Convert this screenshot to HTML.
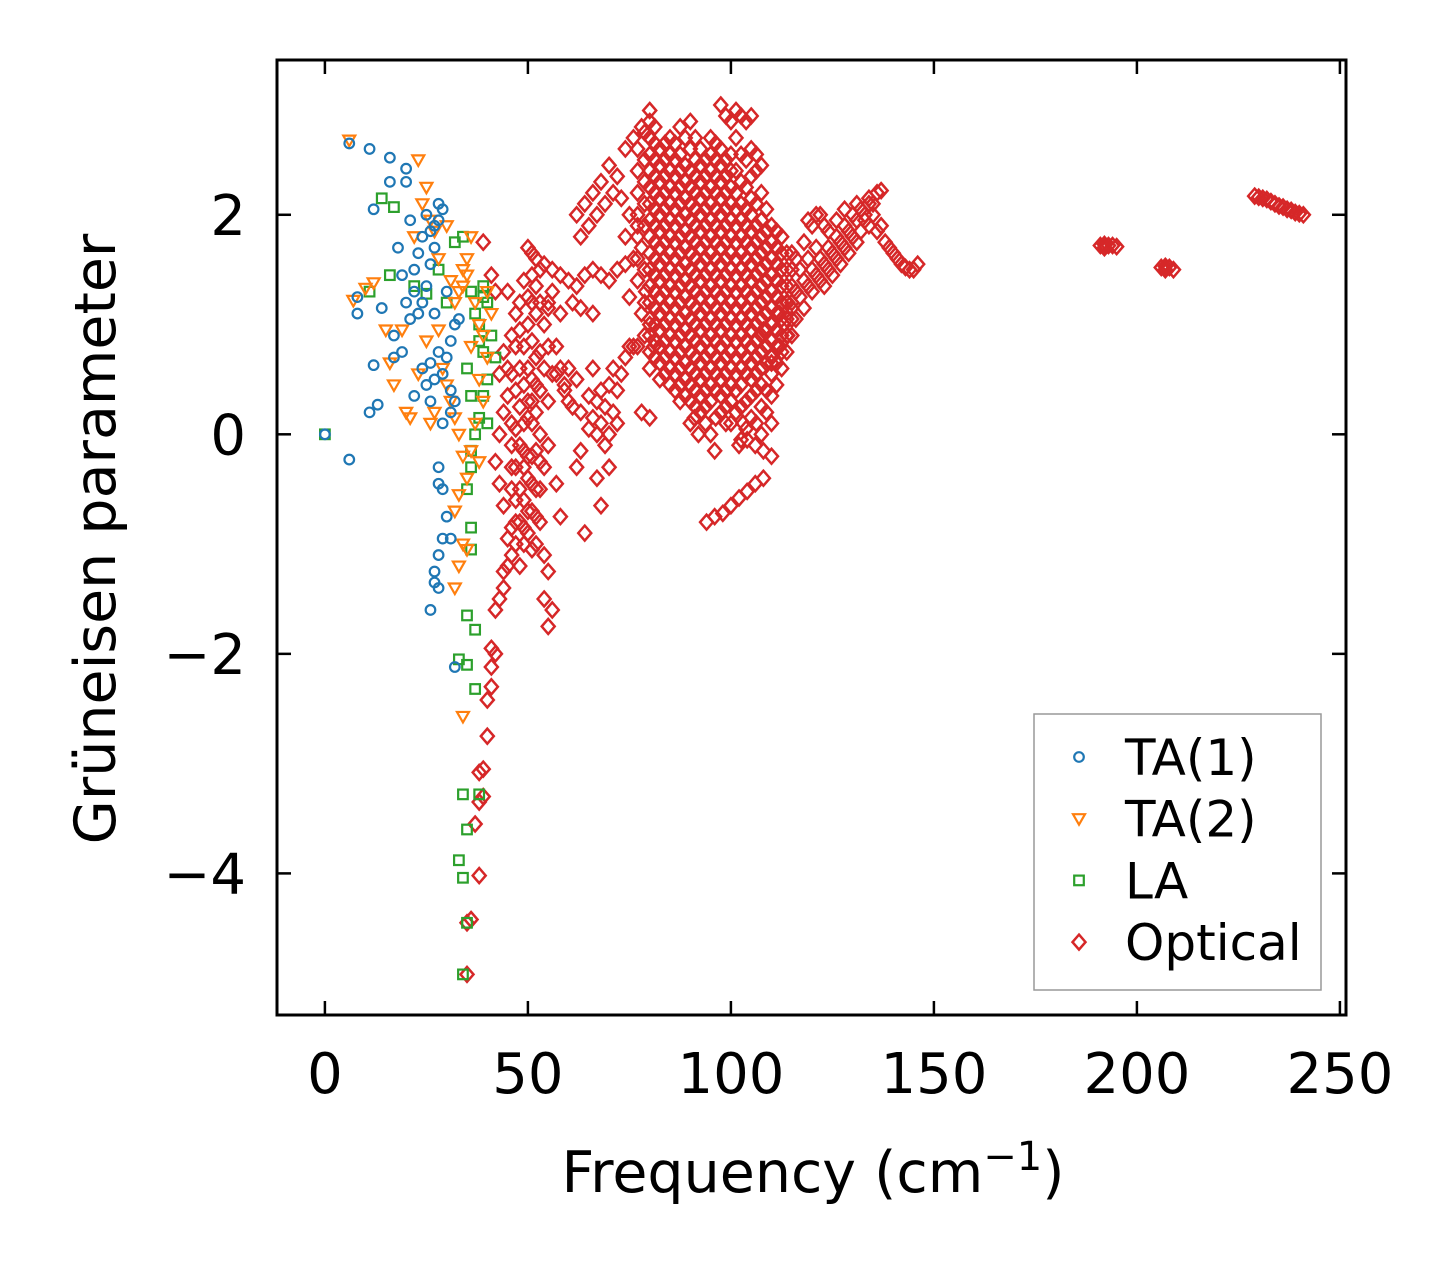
<!DOCTYPE html>
<html><head><meta charset="utf-8">
<style>
html,body{margin:0;padding:0;background:#fff;}
svg{display:block;font-family:"DejaVu Sans","Liberation Sans",sans-serif;}
</style></head>
<body>
<svg id="chart" width="1452" height="1264" viewBox="0 0 1452 1264" xmlns="http://www.w3.org/2000/svg">
<rect width="1452" height="1264" fill="#fff"/>
<g id="marks"></g>
<rect x="277" y="60" width="1069" height="955" fill="none" stroke="#000" stroke-width="3"/>
<g id="axes"></g>
<text transform="translate(115,539) rotate(-90)" text-anchor="middle" font-size="57">Grüneisen parameter</text>
<text x="813" y="1192" text-anchor="middle" font-size="57">Frequency (cm<tspan dy="-22" font-size="40">−1</tspan><tspan dy="22">)</tspan></text>
<g id="legend"></g>
</svg>
<script>
const xTicks=[0,50,100,150,200,250];
const yTicks=[-4,-2,0,2];
const yTickLabels=["−4","−2","0","2"];
const seriesNames=["TA(1)","TA(2)","LA","Optical"];
const seriesColors=["#1f77b4","#ff7f0e","#2ca02c","#d62728"];
const ta1=[[0,0],[6,-0.23],[6,2.65],[11,2.6],[16,2.52],[20,2.42],[8,1.25],[8,1.1],[12,2.05],[12,0.63],[13,0.27],[11,0.2],[14,1.15],[17,0.9],[17,0.7],[18,1.7],[19,1.45],[20,1.2],[21,1.05],[22,1.3],[22,1.5],[23,1.65],[24,1.8],[25,2.0],[25,1.35],[26,1.55],[27,1.9],[28,2.1],[27,1.1],[24,0.6],[25,0.45],[26,0.65],[27,0.5],[28,0.75],[29,0.55],[30,0.7],[31,0.85],[31,0.4],[32,1.0],[33,1.05],[29,0.1],[31,0.2],[32,0.3],[28,-0.3],[28,-0.45],[29,-0.5],[30,-0.75],[31,-0.95],[29,-0.95],[28,-1.1],[27,-1.25],[27,-1.35],[28,-1.4],[26,-1.6],[32,-2.12],[16,2.3],[20,2.3],[21,1.95],[23,1.1],[19,0.75],[22,0.35],[30,1.3],[27,1.7],[26,0.3],[24,1.2],[26,1.85],[28,1.95],[29,2.05]];
const ta2=[[6,2.68],[23,2.5],[7,1.22],[10,1.33],[12,1.38],[15,0.95],[16,0.65],[17,0.45],[20,0.2],[21,0.15],[22,1.8],[24,2.1],[25,2.25],[26,1.95],[27,1.85],[28,1.6],[30,1.9],[31,1.4],[32,1.2],[33,1.3],[34,1.5],[35,1.6],[36,1.8],[37,1.2],[38,1.0],[39,0.9],[40,0.7],[41,1.1],[28,0.95],[29,0.6],[30,0.45],[31,0.3],[32,0.15],[33,0.0],[34,-0.2],[35,-0.4],[36,-0.15],[37,0.1],[38,-0.25],[39,0.3],[33,-0.55],[32,-0.7],[34,-1.0],[35,-1.05],[33,-1.2],[32,-1.4],[34,-2.57],[26,0.1],[23,0.55],[25,0.85],[36,0.8],[38,0.5],[40,1.3],[27,0.2],[19,0.95],[34,1.35],[35,1.45]];
const la=[[0,0],[14,2.15],[17,2.07],[16,1.45],[11,1.3],[22,1.35],[25,1.28],[28,1.5],[30,1.2],[32,1.75],[34,1.8],[36,1.3],[37,1.1],[38,1.0],[39,1.25],[40,1.2],[41,0.9],[42,0.7],[40,0.5],[39,0.35],[38,0.15],[37,0.0],[36,-0.15],[36,-0.3],[35,-0.5],[36,-0.85],[36,-1.05],[35,-1.65],[37,-1.78],[33,-2.05],[35,-2.1],[37,-2.32],[38,-3.28],[34,-3.28],[35,-3.6],[33,-3.88],[34,-4.04],[35,-4.45],[34,-4.92],[39,0.75],[38,0.85],[40,0.1],[39,1.35],[35,0.6],[36,0.35]];
const optical=[[35,-4.92],[35,-4.45],[36,-4.42],[38,-4.02],[37,-3.55],[38,-3.35],[39,-3.3],[38,-3.08],[39,-3.05],[40,-2.75],[40,-2.42],[41,-2.3],[41,-2.12],[42,-2.0],[41,-1.95],[42,-1.6],[43,-1.5],[44,-1.4],[44,-1.25],[45,-1.2],[46,-1.1],[45,-0.95],[46,-0.85],[44,-0.65],[43,-0.45],[42,-0.25],[43,0.0],[44,0.2],[45,0.35],[43,0.55],[44,0.75],[46,0.9],[47,1.1],[48,1.2],[45,1.3],[39,1.75],[41,1.45],[42,1.3],
[47,-1.0],[48,-0.8],[49,-0.6],[50,-0.4],[51,-0.2],[52,-0.5],[53,-0.8],[54,-1.1],[55,-1.25],[54,-1.5],[55,-1.75],[56,-1.6],[58,-0.75],[57,-0.45],[47,-0.3],[48,-0.1],[49,0.1],[50,0.3],[51,0.5],[52,0.2],[53,0.0],[54,-0.3],[55,-0.1],[53,0.4],[55,0.3],[56,0.55],[57,0.8],[58,0.6],[59,0.45],[60,0.3],[47,0.4],[48,0.6],[49,0.8],[50,1.0],[51,0.85],[52,1.1],[53,1.2],[54,1.0],[55,1.15],[56,1.3],[46,0.1],[48,-0.5],[50,-0.9],[51,-0.7],[52,-1.0],[49,-0.3],[50,0.6],[52,0.7],[54,0.6],[55,0.8],[46,-0.3],[47,0.8],[51,-1.05],[53,-0.25],[48,-1.2],[49,-1.0],[50,-0.7],[51,0.1],[52,-0.15],[49,0.45],[47,0.05],
[46,0.55],[47,-0.6],[48,0.25],[49,-0.15],[50,0.15],[51,0.3],[52,0.45],[53,0.75],[46,-0.1],[48,0.95],[50,1.25],[49,1.4],[51,1.2],[45,0.6],[46,-0.5],[47,-0.8],[49,-0.85],[50,-0.2],[51,-0.45],[53,-0.5],[52,-0.75],
[50,1.7],[51,1.65],[52,1.6],[54,1.55],[56,1.5],[58,1.45],[60,1.4],[62,1.35],[64,1.45],[66,1.5],[68,1.45],[70,1.4],[72,1.5],[74,1.55],[52,1.35],[55,1.2],[58,1.1],[61,1.2],[63,1.15],[66,1.1],[51,1.45],[53,1.5],
[57,0.55],[59,0.4],[61,0.25],[63,0.2],[65,0.35],[62,0.5],[60,0.6],[66,0.6],[67,0.3],[68,0.1],[69,-0.1],[70,0.0],[71,0.2],[72,0.4],[73,0.55],[74,0.7],[75,0.8],[76,0.8],[69,0.25],[70,-0.3],[67,-0.4],[68,-0.65],[64,-0.9],[62,-0.3],[63,-0.15],[65,0.05],[70,0.45],[71,0.6],[78,0.2],[80,0.15],[66,0.15],[67,0.0],[68,0.4],[72,0.1],
[62,2.0],[64,2.1],[66,2.2],[68,2.3],[70,2.45],[72,2.35],[74,2.6],[76,2.7],[78,2.8],[80,2.95],[63,1.8],[65,1.9],[67,2.0],[69,2.1],[71,2.2],[73,2.15],[75,2.0],[77,1.9],[76,1.6],[74,1.8],[78,1.7],[80,1.5],[79,1.3],[77,1.4],[75,1.25],[78,1.1],[80,1.0],[81,0.8],
[110,1.0],[112,1.1],[114,1.2],[116,1.3],[118,1.4],[120,1.5],[122,1.6],[124,1.7],[126,1.8],[128,1.9],[130,2.0],[132,2.05],[134,2.1],[136,2.2],[137,2.22],[112,0.8],[114,0.9],[116,1.05],[118,1.15],[120,1.3],[122,1.4],[124,1.5],[126,1.6],[128,1.7],[130,1.8],[132,1.85],[134,1.9],[136,1.85],[116,1.6],[118,1.75],[120,1.9],[122,2.0],[124,1.85],[126,1.95],[128,2.05],[117,1.5],[119,1.6],[121,1.7],[123,1.35],[125,1.45],[127,1.55],[129,1.65],[131,1.75],[133,1.95],[135,2.0],[138,1.75],[140,1.65],[142,1.55],[144,1.5],[146,1.55],[108,0.95],[110,0.65],
[115,1.15],[117,1.25],[119,1.35],[121,1.45],[123,1.55],[125,1.65],[127,1.75],[129,1.85],[131,1.95],[133,2.0],[135,2.1],[113,1.0],[119,1.95],[121,2.0],[123,1.9],[131,2.1],[134,2.15],[137,1.9],[139,1.7],[141,1.6],[143,1.52],[145,1.5],
[94,-0.8],[96,-0.75],[98,-0.72],[100,-0.65],[102,-0.58],[104,-0.52],[106,-0.45],[108,-0.4],[108,-0.15],[106,-0.1],[104,-0.05],[102,-0.1],[96,-0.15],[91,0.15],[92,0.0],[103,0.1],[110,-0.2],
[191,1.72],[192,1.73],[193,1.72],[194,1.72],[195,1.71],[206,1.52],[207,1.5],[208,1.52],[209,1.5],[229,2.17],[231,2.15],[233,2.12],[235,2.08],[237,2.05],[239,2.02],[241,2.0],[232,2.14],[234,2.1],[236,2.07],[238,2.04],[240,2.01],[230,2.16],[192,1.7],[207,1.53]];
const opticalCols=[
[77,[0.8,1.6,1.8,2.0,2.2,2.4,2.6]],
[78.75,[0.9,1.2,1.5,1.9,2.1,2.3,2.5,2.75]],
[80,[0.6,0.75,0.9,1.05,1.2,1.35,1.5,1.65,1.8,1.95,2.1,2.25,2.4,2.55,2.7,2.85]],
[81.25,[0.7,0.85,1.0,1.15,1.3,1.45,1.6,1.75,1.9,2.05,2.2,2.35,2.5,2.65,2.8]],
[82.5,[0.5,0.65,0.8,0.95,1.1,1.25,1.4,1.55,1.7,1.85,2.0,2.15,2.3,2.45,2.6]],
[83.75,[0.55,0.7,0.85,1.0,1.15,1.3,1.45,1.6,1.75,1.9,2.05,2.2,2.35,2.5,2.65]],
[85,[0.45,0.6,0.75,0.9,1.05,1.2,1.35,1.5,1.65,1.8,1.95,2.1,2.25,2.4,2.55,2.7]],
[86.25,[0.4,0.55,0.7,0.85,1.0,1.15,1.3,1.45,1.6,1.75,1.9,2.05,2.2,2.35,2.5,2.65]],
[87.5,[0.3,0.45,0.6,0.75,0.9,1.05,1.2,1.35,1.5,1.65,1.8,1.95,2.1,2.25,2.4,2.55,2.8]],
[88.75,[0.35,0.5,0.65,0.8,0.95,1.1,1.25,1.4,1.55,1.7,1.85,2.0,2.15,2.3,2.45,2.7]],
[90,[0.1,0.3,0.45,0.6,0.75,0.9,1.05,1.2,1.35,1.5,1.65,1.8,1.95,2.1,2.25,2.4,2.6,2.85]],
[91.25,[0.25,0.4,0.55,0.7,0.85,1.0,1.15,1.3,1.45,1.6,1.75,1.9,2.05,2.2,2.35,2.5,2.7]],
[92.5,[0.2,0.35,0.5,0.65,0.8,0.95,1.1,1.25,1.4,1.55,1.7,1.85,2.0,2.15,2.3,2.45,2.6]],
[93.75,[0.1,0.25,0.4,0.55,0.7,0.85,1.0,1.15,1.3,1.45,1.6,1.75,1.9,2.05,2.2,2.35,2.5]],
[95,[0.0,0.3,0.45,0.6,0.75,0.9,1.05,1.2,1.35,1.5,1.65,1.8,1.95,2.1,2.25,2.4,2.55,2.7]],
[96.25,[0.15,0.4,0.55,0.7,0.85,1.0,1.15,1.3,1.45,1.6,1.75,1.9,2.05,2.2,2.35,2.5,2.65]],
[97.5,[0.2,0.35,0.5,0.65,0.8,0.95,1.1,1.25,1.4,1.55,1.7,1.85,2.0,2.15,2.3,2.45,2.6,3.0]],
[98.75,[0.1,0.25,0.4,0.55,0.7,0.85,1.0,1.15,1.3,1.45,1.6,1.75,1.9,2.05,2.2,2.35,2.5,2.9]],
[100,[0.1,0.3,0.45,0.6,0.75,0.9,1.05,1.2,1.35,1.5,1.65,1.8,1.95,2.1,2.25,2.4,2.55,2.85]],
[101.25,[0.2,0.4,0.55,0.7,0.85,1.0,1.15,1.3,1.45,1.6,1.75,1.9,2.05,2.2,2.4,2.7,2.95]],
[102.5,[-0.05,0.25,0.45,0.6,0.75,0.9,1.05,1.2,1.35,1.5,1.65,1.8,1.95,2.1,2.3,2.55,2.9]],
[103.75,[0.05,0.3,0.55,0.7,0.85,1.0,1.15,1.3,1.45,1.6,1.75,1.9,2.05,2.25,2.5,2.85]],
[105,[0.15,0.35,0.5,0.65,0.8,0.95,1.1,1.25,1.4,1.55,1.7,1.85,2.0,2.15,2.35,2.6,2.9]],
[106.25,[0.1,0.4,0.55,0.7,0.85,1.0,1.15,1.3,1.45,1.6,1.75,1.9,2.1,2.4,2.55]],
[107.5,[0.0,0.25,0.45,0.6,0.75,0.9,1.05,1.2,1.35,1.5,1.65,1.8,1.95,2.2,2.45]],
[108.75,[0.2,0.4,0.65,0.8,0.95,1.1,1.25,1.4,1.55,1.7,1.85,2.05]],
[110,[0.1,0.35,0.55,0.7,0.85,1.0,1.15,1.3,1.45,1.6,1.75,1.9]],
[111.25,[0.45,0.65,0.8,0.95,1.1,1.25,1.4,1.55,1.7,1.85]],
[112.5,[0.6,0.75,0.9,1.05,1.2,1.35,1.5,1.65,1.8]],
[113.75,[0.75,0.9,1.05,1.2,1.35,1.5,1.65]],
[115,[0.9,1.05,1.2,1.35,1.5,1.65]]];

const NS="http://www.w3.org/2000/svg";
const X0=277,X1=1346,Y0=60,Y1=1015;
const xMin=-11.8,xMax=251.5,yMin=-5.29,yMax=3.41;
function sx(v){return X0+(v-xMin)/(xMax-xMin)*(X1-X0);}
function sy(v){return Y1-(v-yMin)/(yMax-yMin)*(Y1-Y0);}
function mk(tag,attrs,parent){const e=document.createElementNS(NS,tag);for(const k in attrs)e.setAttribute(k,attrs[k]);parent.appendChild(e);return e;}
function marker(type,cx,cy,color,parent){
  let e;
  if(type===0)e=mk('circle',{cx:cx,cy:cy,r:4.8,fill:'none',stroke:color,'stroke-width':2.2},parent);
  else if(type===1)e=mk('path',{d:`M${cx-6},${cy-4.5} L${cx+6},${cy-4.5} L${cx},${cy+6} Z`,fill:'none',stroke:color,'stroke-width':2.2},parent);
  else if(type===2)e=mk('rect',{x:cx-4.8,y:cy-4.8,width:9.6,height:9.6,fill:'none',stroke:color,'stroke-width':2.2},parent);
  else e=mk('path',{d:`M${cx},${cy-7.5} L${cx+6.5},${cy} L${cx},${cy+7.5} L${cx-6.5},${cy} Z`,fill:'none',stroke:color,'stroke-width':2.5},parent);
  return e;
}
const marks=document.getElementById('marks');
function drawSeries(arr,type,name){
  const g=mk('g',{},marks);
  
  
  arr.forEach(p=>{
    const e=marker(type,sx(p[0]),sy(p[1]),seriesColors[type],g);
    
    
  });
  return g;
}
const gOpt=drawSeries(optical,3,'optical');
opticalCols.forEach(c=>{c[1].forEach(y=>{
  const e=marker(3,sx(c[0]),sy(y),seriesColors[3],gOpt);
  
  
});});
drawSeries(la,2,'la');
drawSeries(ta2,1,'ta2');
drawSeries(ta1,0,'ta1');

const axes=document.getElementById('axes');
xTicks.forEach(t=>{
  const x=sx(t);
  const a=mk('line',{x1:x,y1:Y1,x2:x,y2:Y1-14,stroke:'#000','stroke-width':2.5},axes);
  
  
  const b=mk('line',{x1:x,y1:Y0,x2:x,y2:Y0+14,stroke:'#000','stroke-width':2.5},axes);
  
  
  const l=mk('text',{x:x,y:1093,'text-anchor':'middle','font-size':56},axes);
  l.textContent=t;
  
  
});
yTicks.forEach((t,i)=>{
  const y=sy(t);
  const a=mk('line',{x1:X0,y1:y,x2:X0+14,y2:y,stroke:'#000','stroke-width':2.5},axes);
  
  
  const b=mk('line',{x1:X1,y1:y,x2:X1-14,y2:y,stroke:'#000','stroke-width':2.5},axes);
  
  
  const l=mk('text',{x:246,y:y+20,'text-anchor':'end','font-size':56},axes);
  l.textContent=yTickLabels[i];
  
  
});

const leg=document.getElementById('legend');
const box=mk('rect',{x:1034,y:714,width:287,height:276,fill:'#fff',stroke:'#999','stroke-width':1.5},leg);


seriesNames.forEach((n,i)=>{
  const y=757+i*61.7;
  const g=mk('g',{},leg);
  
  
  marker(i,1079,y,seriesColors[i],g);
  const t=mk('text',{x:1125,y:y+18,'font-size':50},g);
  t.textContent=n;
});
</script>
</body></html>
